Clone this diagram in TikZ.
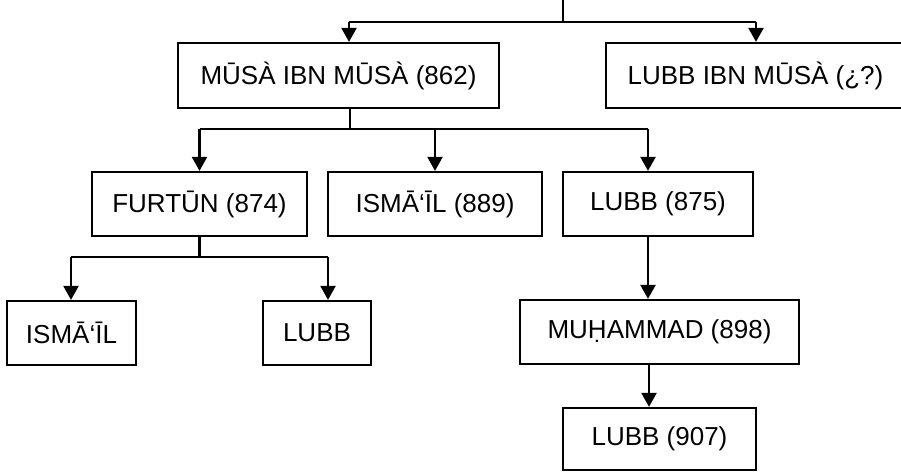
\documentclass[tikz,border=0pt]{standalone}
\usepackage{fontspec}
\setmainfont{Liberation Sans}
\usetikzlibrary{arrows.meta, calc}

\begin{document}
\begin{tikzpicture}[
    x=0.02cm, y=-0.02cm,
    every node/.style={font=\fontsize{14.8}{17}\selectfont},
    box/.style={
        draw, rectangle, line width=1.3pt,
        minimum height=1.28cm, inner sep=0pt, align=center
    },
    line/.style={draw, line width=1.3pt},
    arrow/.style={-{Triangle[width=0.30cm, length=0.28cm]}, line width=1.3pt}
]

% ── FRAME ──────────────────────────────────────────────────────
\useasboundingbox (0,0) rectangle (901,471);
\clip (0,0) rectangle (901,471);

% ── GENERATION 1 ───────────────────────────────────────────────
\node[box, minimum width=6.42cm, minimum height=1.30cm] (musa) at (338.5,75.5)
    {MŪSÀ IBN MŪSÀ (862)};
\node[box, minimum width=5.98cm, minimum height=1.30cm] (lubb_ibn) at (755.5,75.5)
    {LUBB IBN MŪSÀ (¿?)};

\coordinate (top) at (563,0);
\coordinate (bus_a1) at (349,22);
\coordinate (bus_a2) at (756,22);
\draw[line] (top) -- (top |- bus_a1);
\draw[line] (bus_a1) -- (bus_a2);
\draw[arrow] (bus_a1) -- (bus_a1 |- musa.north);
\draw[arrow] (bus_a2) -- (bus_a2 |- lubb_ibn.north);

% ── GENERATION 2 ───────────────────────────────────────────────
\node[box, minimum width=4.30cm] (furtun) at (199.5,204) {FURTŪN (874)};
\node[box, minimum width=4.28cm] (isma_889) at (435,204) {ISMĀ‘ĪL (889)};
\node[box, minimum width=3.80cm] (lubb_875) at (658,204) {LUBB (875)};

% bus musa -> figli
\coordinate (bus_b) at (350,129);
\draw[line] (musa.south -| bus_b) -- (bus_b);
\draw[line] (furtun.north |- bus_b) -- (648,129) coordinate (bus_b2);
\draw[arrow] (furtun.north |- bus_b) -- (furtun.north);
\draw[arrow] (isma_889.north |- bus_b) -- (isma_889.north);
\draw[arrow] (bus_b2) -- (bus_b2 |- lubb_875.north);

% ── GENERATION 3 ───────────────────────────────────────────────
\node[box, minimum width=2.58cm] (isma) at (71.5,333) {ISMĀ‘ĪL};
\node[box, minimum width=2.16cm] (lubb) at (317,333) {LUBB};
\node[box, minimum width=5.58cm] (muhammad) at (659.5,332) {MUḤAMMAD (898)};

% bus furtun -> figli
\coordinate (bus_c) at (199.5,257);
\draw[line] (furtun.south) -- (bus_c);
\coordinate (bus_c1) at (71,257);
\coordinate (bus_c2) at (328,257);
\draw[line] (bus_c1) -- (bus_c2);
\draw[arrow] (bus_c1) -- (bus_c1 |- isma.north);
\draw[arrow] (bus_c2) -- (bus_c2 |- lubb.north);

\draw[arrow] (bus_b2 |- lubb_875.south) -- (bus_b2 |- muhammad.north);

% ── GENERATION 4 ───────────────────────────────────────────────
\node[box, minimum width=3.86cm, minimum height=1.24cm] (lubb_907) at (659.5,439)
    {LUBB (907)};

\coordinate (mid_m) at (649,0);
\draw[arrow] (mid_m |- muhammad.south) -- (mid_m |- lubb_907.north);

\end{tikzpicture}
\end{document}
